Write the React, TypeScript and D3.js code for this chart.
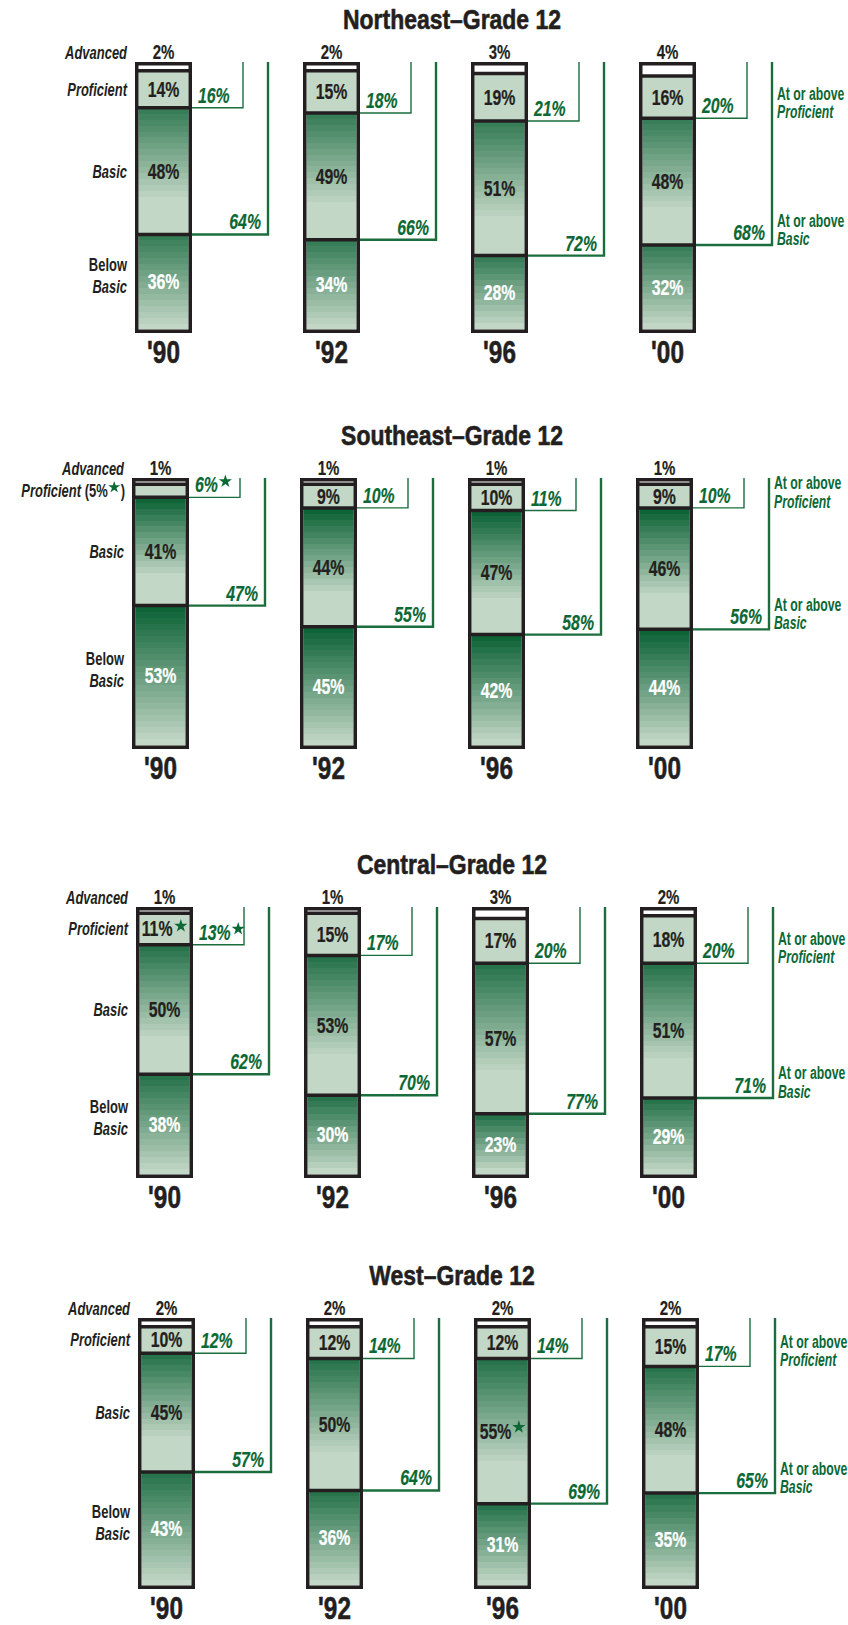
import React from "react";
import * as d3 from "d3";

// Achievement-level percentages, grade 12, by region and assessment year
const years = ["'90", "'92", "'96", "'00"];
const regionNames = ["Northeast", "Southeast", "Central", "West"];

const northeastAdvanced = [2, 2, 3, 4];
const northeastProficient = [14, 15, 19, 16];
const northeastBasic = [48, 49, 51, 48];
const northeastBelowBasic = [36, 34, 28, 32];
const northeastAtProficient = [16, 18, 21, 20];
const northeastAtBasic = [64, 66, 72, 68];
const northeastStars: string[][] = [[], [], [], []];

const southeastAdvanced = [1, 1, 1, 1];
const southeastProficient = [5, 9, 10, 9];
const southeastBasic = [41, 44, 47, 46];
const southeastBelowBasic = [53, 45, 42, 44];
const southeastAtProficient = [6, 10, 11, 10];
const southeastAtBasic = [47, 55, 58, 56];
const southeastStars: string[][] = [["proficient", "atProficient"], [], [], []];

const centralAdvanced = [1, 1, 3, 2];
const centralProficient = [11, 15, 17, 18];
const centralBasic = [50, 53, 57, 51];
const centralBelowBasic = [38, 30, 23, 29];
const centralAtProficient = [13, 17, 20, 20];
const centralAtBasic = [62, 70, 77, 71];
const centralStars: string[][] = [["proficient", "atProficient"], [], [], []];

const westAdvanced = [2, 2, 2, 2];
const westProficient = [10, 12, 12, 15];
const westBasic = [45, 50, 55, 48];
const westBelowBasic = [43, 36, 31, 35];
const westAtProficient = [12, 14, 14, 17];
const westAtBasic = [57, 64, 69, 65];
const westStars: string[][] = [[], [], ["basic"], []];

const panels = [
  { name: regionNames[0], advanced: northeastAdvanced, proficient: northeastProficient, basic: northeastBasic, below: northeastBelowBasic, atProficient: northeastAtProficient, atBasic: northeastAtBasic, stars: northeastStars },
  { name: regionNames[1], advanced: southeastAdvanced, proficient: southeastProficient, basic: southeastBasic, below: southeastBelowBasic, atProficient: southeastAtProficient, atBasic: southeastAtBasic, stars: southeastStars },
  { name: regionNames[2], advanced: centralAdvanced, proficient: centralProficient, basic: centralBasic, below: centralBelowBasic, atProficient: centralAtProficient, atBasic: centralAtBasic, stars: centralStars },
  { name: regionNames[3], advanced: westAdvanced, proficient: westProficient, basic: westBasic, below: westBelowBasic, atProficient: westAtProficient, atBasic: westAtBasic, stars: westStars },
];

// Layout
const W = 848;
const H = 1625;
const panelTops = [62, 478, 907, 1318];
const panelShiftX = [0, -3, 1, 3];
const panelShade = [0.72, 0.93, 0.8, 0.8];
const BAR_W = 57;
const BAR_H = 271;
const BORDER = 3.5;
const PROF_BRACKET = 51;
const BASIC_BRACKET = 76;

const FONT = "'Liberation Sans', Arial, Helvetica, sans-serif";
const INK = "#231f20";
const GREEN_LINE = "#1b6d3d";
const GREEN_TEXT = "#0c6834";
const LIGHT = "#c3d7c6";
const DEEP = "#005a2c";

const ARIAL_BOLD: Record<string, number> = {
  "0": 0.556, "1": 0.556, "2": 0.556, "3": 0.556, "4": 0.556, "5": 0.556,
  "6": 0.556, "7": 0.556, "8": 0.556, "9": 0.556, "%": 0.889, "(": 0.333,
  ")": 0.333, " ": 0.278,
};
const textWidth = (s: string, size: number, sx: number) =>
  Array.from(s).reduce((a, c) => a + (ARIAL_BOLD[c] ?? 0.556), 0) * size * sx;

const starPath = d3.symbol().type(d3.symbolStar).size(54)() as string;
const smallStarPath = d3.symbol().type(d3.symbolStar).size(44)() as string;

type TProps = {
  x: number; y: number; size: number; sx: number; anchor?: string;
  italic?: boolean; fill?: string; heavy?: number; children: React.ReactNode;
};
function CText({ x, y, size, sx, anchor = "start", italic = false, fill = INK, heavy = 0, children }: TProps) {
  return (
    <text
      transform={`translate(${x},${y}) scale(${sx},1)`}
      fontSize={size}
      fontFamily={FONT}
      fontWeight={700}
      fontStyle={italic ? "italic" : "normal"}
      textAnchor={anchor as any}
      fill={fill}
      stroke={heavy > 0 ? fill : undefined}
      strokeWidth={heavy > 0 ? heavy : undefined}
      strokeLinejoin="round"
    >
      {children}
    </text>
  );
}

function Star({ cx, cy, small = false }: { cx: number; cy: number; small?: boolean }) {
  return <path d={small ? smallStarPath : starPath} transform={`translate(${cx},${cy})`} fill={GREEN_TEXT} />;
}

// Banded vertical ramp from a deep green down to the pale tint
function bandStops(top: string, rampEnd: number, heightPx: number) {
  const bands = Math.max(4, Math.round((heightPx * rampEnd) / 6));
  const ip = d3.interpolateRgb(top, LIGHT);
  const stops: { offset: number; color: string }[] = [];
  for (let i = 0; i < bands; i++) {
    const c = ip(i / (bands - 1));
    stops.push({ offset: (rampEnd * i) / bands, color: c });
    stops.push({ offset: (rampEnd * (i + 1)) / bands, color: c });
  }
  stops.push({ offset: 1, color: LIGHT });
  return stops;
}

const VAL = 22;
const VAL_SX = 0.72;
const SIDE = 18;
const SIDE_SX = 0.72;
const RIGHT_SX = 0.68;

export default function App() {
  const x = d3.scalePoint<string>().domain(years).range([135, 639]);

  const defs: React.ReactNode[] = [];
  const body: React.ReactNode[] = [];

  panels.forEach((panel, p) => {
    const top = panelTops[p];
    const bottom = top + BAR_H;
    const y = d3.scaleLinear().domain([0, 100]).range([top + BORDER, bottom - BORDER]);
    const topColor = d3.interpolateRgb(LIGHT, DEEP)(panelShade[p]);
    const g: React.ReactNode[] = [];

    // Title
    g.push(
      <CText key="title" x={452} y={top - 33} size={27} sx={0.85} anchor="middle" heavy={0.6}>
        {`${panel.name}–Grade 12`}
      </CText>
    );

    years.forEach((yr, j) => {
      const left = (x(yr) as number) + panelShiftX[p];
      const right = left + BAR_W;
      const cx = left + BAR_W / 2;
      const adv = panel.advanced[j];
      const atP = panel.atProficient[j];
      const atB = panel.atBasic[j];
      const stars = panel.stars[j];
      const yAdv = y(adv);
      const yP = y(atP);
      const yB = y(atB);
      const yEnd = y(100);
      const idB = `g${p}-${j}-basic`;
      const idBB = `g${p}-${j}-below`;

      defs.push(
        <linearGradient key={idB} id={idB} x1="0" y1="0" x2="0" y2="1">
          {bandStops(topColor, 0.75, yB - yP).map((s, i) => (
            <stop key={i} offset={s.offset} stopColor={s.color} />
          ))}
        </linearGradient>,
        <linearGradient key={idBB} id={idBB} x1="0" y1="0" x2="0" y2="1">
          {bandStops(topColor, 1, yEnd - yB).map((s, i) => (
            <stop key={i} offset={s.offset} stopColor={s.color} />
          ))}
        </linearGradient>
      );

      const inL = left + BORDER;
      const inW = BAR_W - 2 * BORDER;

      // Segment fills
      g.push(
        <rect key={`a${j}`} x={inL} y={y(0)} width={inW} height={yAdv - y(0)} fill="#ffffff" />,
        <rect key={`p${j}`} x={inL} y={yAdv} width={inW} height={yP - yAdv} fill={LIGHT} />,
        <rect key={`b${j}`} x={inL} y={yP} width={inW} height={yB - yP} fill={`url(#${idB})`} />,
        <rect key={`bb${j}`} x={inL} y={yB} width={inW} height={yEnd - yB} fill={`url(#${idBB})`} />
      );
      // Separators and outline
      [yAdv, yP, yB].forEach((yy, k) =>
        g.push(<line key={`s${j}-${k}`} x1={left} x2={right} y1={yy} y2={yy} stroke={INK} strokeWidth={BORDER} />)
      );
      g.push(
        <rect key={`o${j}`} x={left + BORDER / 2} y={top + BORDER / 2} width={BAR_W - BORDER} height={BAR_H - BORDER}
          fill="none" stroke={INK} strokeWidth={BORDER} />
      );

      // Brackets
      const xPL = right + PROF_BRACKET;
      const xBL = right + BASIC_BRACKET;
      g.push(
        <path key={`bp${j}`} d={`M${right},${yP}H${xPL}V${top}`} fill="none" stroke={GREEN_LINE} strokeWidth={1.4} />,
        <path key={`bb2${j}`} d={`M${right},${yB}H${xBL}V${top}`} fill="none" stroke={GREEN_LINE} strokeWidth={2.4} />
      );

      // Advanced value above bar
      g.push(
        <CText key={`av${j}`} x={cx} y={top - 3} size={20} sx={0.75} anchor="middle" heavy={0.2}>{`${adv}%`}</CText>
      );

      // In-bar values
      const prof = panel.proficient[j];
      const profMid = (yAdv + yP) / 2;
      if (yP - yAdv >= 14) {
        const s = `${prof}%`;
        if (stars.includes("proficient")) {
          const tw = textWidth(s, VAL, VAL_SX);
          const start = cx - (tw + 14) / 2;
          g.push(
            <CText key={`pv${j}`} x={start} y={profMid + 7.5} size={VAL} sx={VAL_SX} heavy={0.25}>{s}</CText>,
            <Star key={`ps${j}`} cx={start + tw + 7.5} cy={profMid - 3} />
          );
        } else {
          g.push(<CText key={`pv${j}`} x={cx} y={profMid + 7.5} size={VAL} sx={VAL_SX} anchor="middle" heavy={0.25}>{s}</CText>);
        }
      }
      const basicMid = (yP + yB) / 2;
      {
        const s = `${panel.basic[j]}%`;
        if (stars.includes("basic")) {
          const tw = textWidth(s, VAL, VAL_SX);
          const start = cx - (tw + 14) / 2;
          g.push(
            <CText key={`bv${j}`} x={start} y={basicMid + 7.5} size={VAL} sx={VAL_SX} heavy={0.25}>{s}</CText>,
            <Star key={`bs${j}`} cx={start + tw + 7.5} cy={basicMid - 4} />
          );
        } else {
          g.push(<CText key={`bv${j}`} x={cx} y={basicMid + 7.5} size={VAL} sx={VAL_SX} anchor="middle" heavy={0.25}>{s}</CText>);
        }
      }
      const belowMid = (yB + yEnd) / 2;
      g.push(
        <CText key={`bbv${j}`} x={cx} y={belowMid + 7.5} size={VAL} sx={VAL_SX} anchor="middle" fill="#ffffff" heavy={0.25}>
          {`${panel.below[j]}%`}
        </CText>
      );

      // Bracket values
      {
        const s = `${atP}%`;
        g.push(
          <CText key={`ap${j}`} x={right + 6} y={yP - 5} size={VAL} sx={VAL_SX} italic fill={GREEN_TEXT} heavy={0.2}>{s}</CText>
        );
        if (stars.includes("atProficient")) {
          const tw = textWidth(s, VAL, VAL_SX);
          g.push(<Star key={`aps${j}`} cx={right + 6 + tw + 7.5} cy={yP - 16} />);
        }
      }
      g.push(
        <CText key={`ab${j}`} x={xBL - 7} y={yB - 5} size={VAL} sx={VAL_SX} italic anchor="end" fill={GREEN_TEXT} heavy={0.2}>
          {`${atB}%`}
        </CText>
      );

      // Year
      g.push(
        <CText key={`yr${j}`} x={cx} y={bottom + 30} size={32} sx={0.76} anchor="middle" heavy={0.6}>{yr}</CText>
      );

      // Level names beside the first bar
      if (j === 0) {
        const R = left - 8;
        g.push(
          <CText key="lAdv" x={R} y={top - 3} size={SIDE} sx={SIDE_SX} anchor="end" italic>Advanced</CText>
        );
        if (yP - yAdv >= 14) {
          g.push(
            <CText key="lProf" x={R} y={profMid + 6.5} size={SIDE} sx={SIDE_SX} anchor="end" italic>Proficient</CText>
          );
        } else {
          const R2 = left - 7;
          const wParen = textWidth(")", SIDE, SIDE_SX);
          const starCx = R2 - wParen - 6.5;
          g.push(
            <CText key="lProf" x={starCx - 6.5} y={profMid + 6.5} size={SIDE} sx={SIDE_SX} anchor="end">
              <tspan fontStyle="italic">Proficient </tspan>
              <tspan>{`(${prof}%`}</tspan>
            </CText>,
            <Star key="lProfStar" cx={starCx} cy={profMid - 3.5} small />,
            <CText key="lProfParen" x={R2} y={profMid + 6.5} size={SIDE} sx={SIDE_SX} anchor="end">)</CText>
          );
        }
        g.push(
          <CText key="lBasic" x={R} y={basicMid + 6.5} size={SIDE} sx={SIDE_SX} anchor="end" italic>Basic</CText>,
          <CText key="lBelow1" x={R} y={belowMid - 11} size={SIDE} sx={SIDE_SX} anchor="end">Below</CText>,
          <CText key="lBelow2" x={R} y={belowMid + 11} size={SIDE} sx={SIDE_SX} anchor="end" italic>Basic</CText>
        );
      }

      // Cumulative-level names beside the last bar
      if (j === years.length - 1) {
        const LX = xBL + 5;
        g.push(
          <CText key="rP1" x={LX} y={yP - 18.5} size={SIDE} sx={RIGHT_SX} fill={GREEN_TEXT}>At or above</CText>,
          <CText key="rP2" x={LX} y={yP} size={SIDE} sx={RIGHT_SX} italic fill={GREEN_TEXT}>Proficient</CText>,
          <CText key="rB1" x={LX} y={yB - 18.5} size={SIDE} sx={RIGHT_SX} fill={GREEN_TEXT}>At or above</CText>,
          <CText key="rB2" x={LX} y={yB} size={SIDE} sx={RIGHT_SX} italic fill={GREEN_TEXT}>Basic</CText>
        );
      }
    });

    body.push(<g key={panel.name}>{g}</g>);
  });

  return (
    <svg
      width={W}
      height={H}
      viewBox={`0 0 ${W} ${H}`}
      style={{ position: "absolute", left: 0, top: 0, display: "block", background: "#ffffff" }}
    >
      <defs>{defs}</defs>
      {body}
    </svg>
  );
}
